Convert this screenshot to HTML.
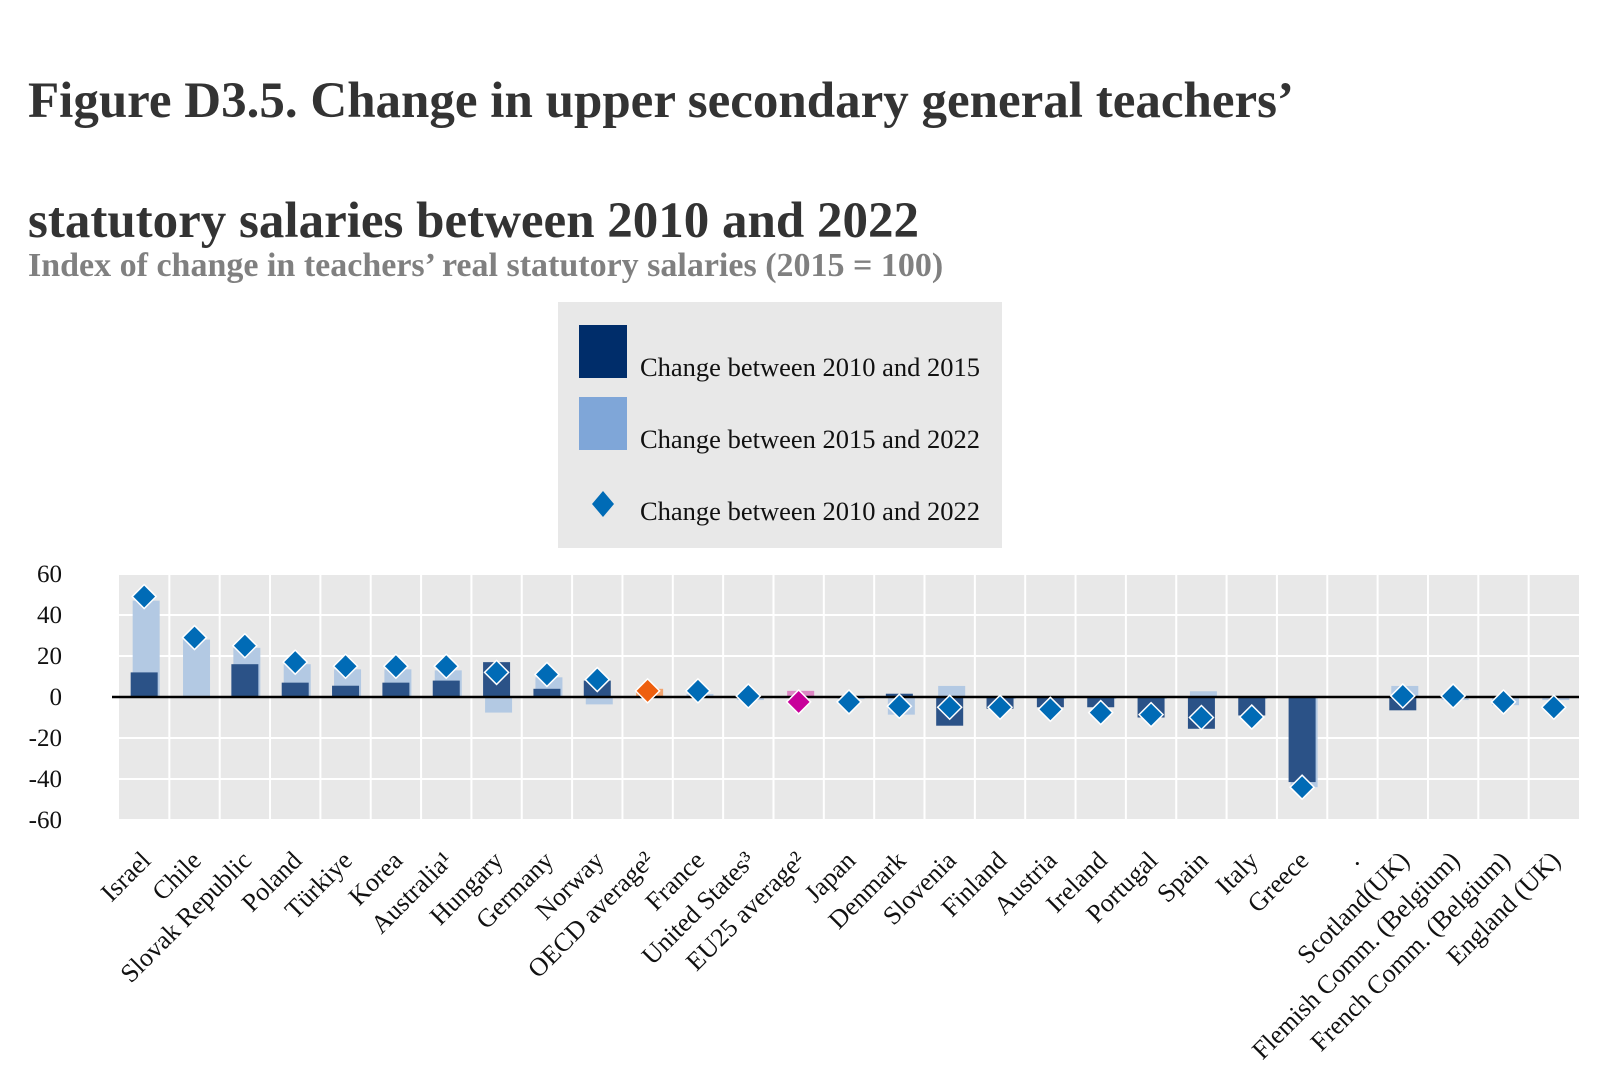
<!DOCTYPE html>
<html><head><meta charset="utf-8"><style>
html,body{margin:0;padding:0;background:#fff;}
svg{display:block;}
text{font-family:"Liberation Serif",serif;}
</style></head><body>
<svg width="1600" height="1067" viewBox="0 0 1600 1067" xmlns="http://www.w3.org/2000/svg">
<text x="28" y="117" font-size="51" font-weight="bold" fill="#333">Figure D3.5. Change in upper secondary general teachers’</text>
<text x="28" y="237" font-size="51" font-weight="bold" fill="#333">statutory salaries between 2010 and 2022</text>
<text x="28" y="276" font-size="34" font-weight="bold" fill="#808080">Index of change in teachers’ real statutory salaries (2015 = 100)</text>
<rect x="558" y="302" width="444" height="246" fill="#e8e8e8"/>
<rect x="579" y="325" width="48" height="53" fill="#002d6a"/>
<text x="640" y="376" font-size="26.5" fill="#111">Change between 2010 and 2015</text>
<rect x="579" y="397" width="48" height="53" fill="#7fa6d8"/>
<text x="640" y="448" font-size="26.5" fill="#111">Change between 2015 and 2022</text>
<polygon points="603,491 614,504 603,517 592,504" fill="#006bb6"/>
<text x="640" y="520" font-size="26.5" fill="#111">Change between 2010 and 2022</text>
<g id="plot"></g>
</svg>
<script>
var svg=document.querySelector('svg'),g=document.getElementById('plot'),NS='http://www.w3.org/2000/svg';
function el(t,a,txt){var e=document.createElementNS(NS,t);for(var k in a)e.setAttribute(k,a[k]);if(txt!=null)e.textContent=txt;g.appendChild(e);return e;}
var L=119,R=1579,Z=697,S=2.05,N=29,W=(R-L)/N;
function Y(v){return Z-S*v;}
el('rect',{x:L,y:Y(60)-1,width:R-L,height:S*120+2,fill:'#e8e8e8'});
for(var v=-60;v<=60;v+=20){el('line',{x1:L,x2:R,y1:Y(v),y2:Y(v),stroke:'#fff','stroke-width':2});
el('text',{x:62,y:Y(v)+8,'font-size':25,'text-anchor':'end',fill:'#111'},String(v));}
for(var i=1;i<N;i++){el('line',{x1:L+W*i,x2:L+W*i,y1:Y(60),y2:Y(-60),stroke:'#fff','stroke-width':2});}
var d=[["Israel",12,47,49],["Chile",0,28,29],["Slovak Republic",16,24,25],["Poland",7,16,17],["Türkiye",5.5,13.5,15],["Korea",7,13.5,15],["Australia¹",8,13,15],["Hungary",17,-7.6,12],["Germany",4,9.6,11],["Norway",8,-3.6,8.5],["OECD average²",0,4,3,'o'],["France",0,1.5,3],["United States³",0,-1.5,0.5],["EU25 average²",0,3,-2.4,'e'],["Japan",0,-1,-2.4],["Denmark",1.6,-8.6,-4.5],["Slovenia",-14,5.4,-5],["Finland",-5.7,-1,-5],["Austria",-5,-1,-6],["Ireland",-5,-1,-7.6],["Portugal",-10,-1,-8.6],["Spain",-15.5,2.8,-10],["Italy",-9,-1,-9.8],["Greece",-41.5,-44,-44],[".",null,null,null],["Scotland(UK)",-6.5,5.4,0.5],["Flemish Comm. (Belgium)",0,-1.5,0.5],["French Comm. (Belgium)",0,-4,-2.4],["England (UK)",0,-1.5,-5]];
d.forEach(function(r,i){var cx=L+W*(i+.5),bw=27;
 if(r[1]!=null){
  var lc=r[4]=='o'?'#f2a36e':r[4]=='e'?'#dd86c4':'#b3c9e3';
  var l=r[2];el('rect',{x:cx-bw/2+2,y:Math.min(Y(l),Z),width:bw,height:Math.abs(S*l),fill:lc});
  var dk=r[1];if(dk)el('rect',{x:cx-bw/2,y:Math.min(Y(dk),Z),width:bw,height:Math.abs(S*dk),fill:'#2b5287'});
 }
 el('text',{x:cx+8,y:862,'font-size':26,'text-anchor':'end',fill:'#111',transform:'rotate(-45 '+(cx+8)+' 862)'},r[0]);
});
el('line',{x1:112,x2:R,y1:Z,y2:Z,stroke:'#000','stroke-width':2.5});
d.forEach(function(r,i){if(r[3]==null)return;var cx=L+W*(i+.5),y=Y(r[3]);
 var c=r[4]=='o'?'#ee5f0e':r[4]=='e'?'#c8009a':'#006bb6';
 el('polygon',{points:(cx)+','+(y-12)+' '+(cx+12)+','+y+' '+cx+','+(y+12)+' '+(cx-12)+','+y,fill:c,stroke:'#fff','stroke-width':1.5});
});
</script>
</body></html>
